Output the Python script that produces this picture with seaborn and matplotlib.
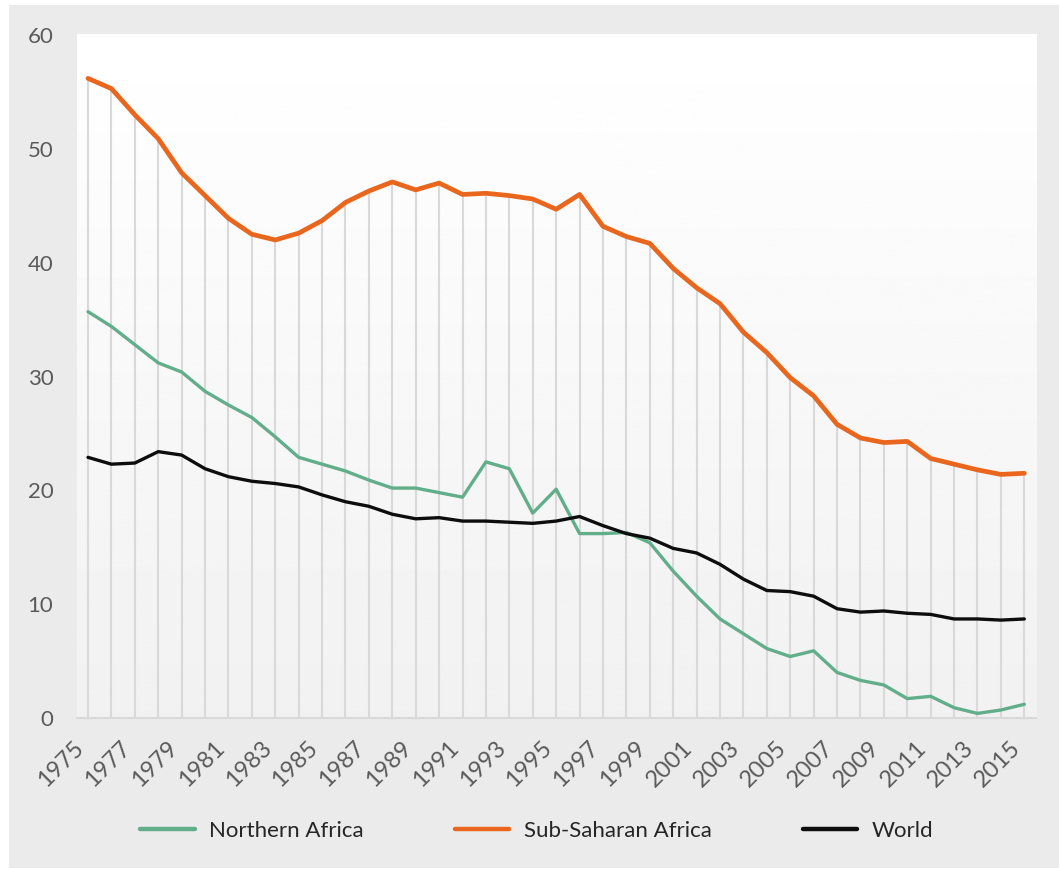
"""Line chart: Northern Africa, Sub-Saharan Africa and World, 1975-2015."""

import matplotlib
matplotlib.use("Agg")
import matplotlib.pyplot as plt
import matplotlib.patches as mpatches
from matplotlib.lines import Line2D
import numpy as np
import pandas as pd
import seaborn as sns

# Data
years = list(range(1975, 2016))
northern_africa = [
    35.7, 34.4, 32.8, 31.2, 30.4, 28.7, 27.5, 26.4, 24.7, 22.9,
    22.3, 21.7, 20.9, 20.2, 20.2, 19.8, 19.4, 22.5, 21.9, 18.0,
    20.1, 16.2, 16.2, 16.3, 15.4, 12.9, 10.7, 8.7, 7.4, 6.1,
    5.4, 5.9, 4.0, 3.3, 2.9, 1.7, 1.9, 0.9, 0.4, 0.7, 1.2,
]
sub_saharan = [
    56.2, 55.3, 53.0, 50.9, 47.9, 45.9, 43.9, 42.5, 42.0, 42.6,
    43.7, 45.3, 46.3, 47.1, 46.4, 47.0, 46.0, 46.1, 45.9, 45.6,
    44.7, 46.0, 43.2, 42.3, 41.7, 39.5, 37.8, 36.4, 33.9, 32.1,
    29.9, 28.3, 25.8, 24.6, 24.2, 24.3, 22.8, 22.3, 21.8, 21.4, 21.5,
]
world = [
    22.9, 22.3, 22.4, 23.4, 23.1, 21.9, 21.2, 20.8, 20.6, 20.3,
    19.6, 19.0, 18.6, 17.9, 17.5, 17.6, 17.3, 17.3, 17.2, 17.1,
    17.3, 17.7, 16.9, 16.2, 15.8, 14.9, 14.5, 13.5, 12.2, 11.2,
    11.1, 10.7, 9.6, 9.3, 9.4, 9.2, 9.1, 8.7, 8.7, 8.6, 8.7,
]
series_names = ["Northern Africa", "Sub-Saharan Africa", "World"]
series_colors = ["#62AE8B", "#E9661C", "#0D0D0D"]
series_widths = [2.4, 3.4, 2.4]
y_ticks = [0, 10, 20, 30, 40, 50, 60]
x_ticks = years[::2]

df = pd.DataFrame({
    "Year": years,
    "Northern Africa": northern_africa,
    "Sub-Saharan Africa": sub_saharan,
    "World": world,
})

sns.set_theme(style="white")
plt.rcParams["font.family"] = ["Lato", "DejaVu Sans"]

fig = plt.figure(figsize=(10.59, 8.69), dpi=100)
fig.patch.set_facecolor("white")
# grey outer panel
fig.patches.append(mpatches.Rectangle(
    (0.0085, 0.0012), 0.9915, 0.9930, transform=fig.transFigure,
    facecolor="#EBEBEB", edgecolor="none", zorder=-10))

ax = fig.add_axes([0.0727, 0.1738, 0.9056, 0.7871])
ax.set_facecolor("none")

# plot area: white to light grey vertical gradient
grad = np.linspace(1.0, 0.945, 256).reshape(-1, 1)
ax.imshow(grad, cmap="gray", vmin=0, vmax=1, aspect="auto",
          extent=[0, 1, 0, 1], transform=ax.transAxes, zorder=0)

# drop lines from the axis up to the Sub-Saharan series
ax.vlines(df["Year"], 0, df["Sub-Saharan Africa"], color="#D9D9D9",
          linewidth=1.5, zorder=1)

for i, (name, color, lw) in enumerate(zip(series_names, series_colors, series_widths)):
    sns.lineplot(data=df, x="Year", y=name, color=color, linewidth=lw,
                 ax=ax, zorder=3 + i)

ax.set_xlim(1974.53, 2015.5)
ax.set_ylim(0, 60.1)
ax.set_xticks(x_ticks)
ax.set_xticklabels([str(y) for y in x_ticks], rotation=45, ha="right")
ax.set_yticks(y_ticks)
ax.set_xlabel("")
ax.set_ylabel("")
ax.tick_params(axis="y", length=0, pad=17, labelsize=16, labelcolor="#5A5A5A")
ax.tick_params(axis="x", length=0, pad=14, labelsize=17, labelcolor="#5A5A5A")

for side in ["top", "right", "left"]:
    ax.spines[side].set_visible(False)
ax.spines["bottom"].set_color("#D9D9D9")
ax.spines["bottom"].set_linewidth(1.5)
ax.spines["bottom"].set_zorder(2)

handles = [Line2D([0], [0], color=c, linewidth=3.2) for c in series_colors]
fig.legend(handles, series_names, loc="center", bbox_to_anchor=(0.507, 0.044),
           ncol=3, frameon=False, fontsize=16, handlelength=2.45,
           handletextpad=0.65, columnspacing=4.1)

fig.savefig("out.png", dpi=100, facecolor=fig.get_facecolor())
